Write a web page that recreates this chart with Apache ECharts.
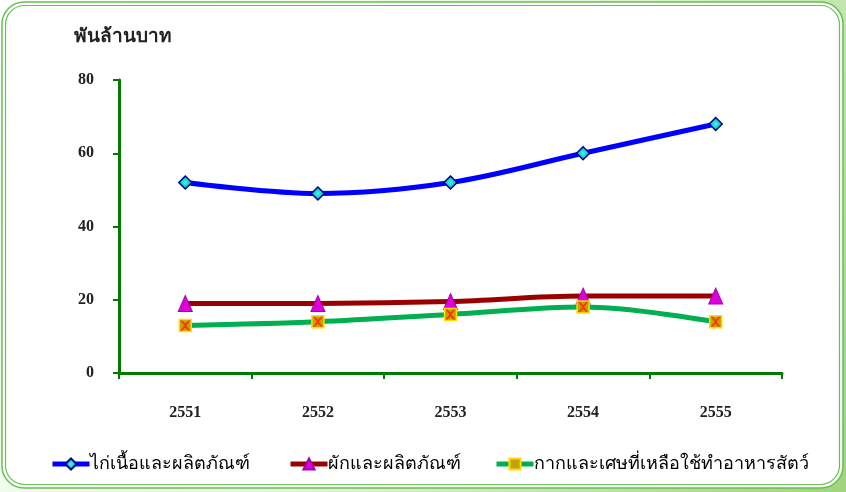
<!DOCTYPE html>
<html><head><meta charset="utf-8">
<script src="https://cdn.jsdelivr.net/npm/echarts@6/dist/echarts.min.js"></script>
<style>html,body{margin:0;padding:0;background:#fff}#c{width:846px;height:492px}</style>
</head><body><div id="c"></div>
<script>
const categories = ['2551','2552','2553','2554','2555'];
const chicken = [52, 49, 52, 60, 68];
const vegetable = [19, 19, 19.5, 21, 21];
const residue = [13, 14, 16, 18, 14];
const seriesNames = ['ไก่เนื้อและผลิตภัณฑ์','ผักและผลิตภัณฑ์','กากและเศษที่เหลือใช้ทำอาหารสัตว์'];
const yTicks = [0, 20, 40, 60, 80];
const unitLabel = 'พันล้านบาท';

const chart = echarts.init(document.getElementById('c'));
const serif = "'Liberation Serif','DejaVu Serif',serif";
const legendFont = "'Liberation Sans Narrow','Noto Sans',sans-serif";
const crossPath = 'path://M0,0 L2,0 L5,3 L8,0 L10,0 L6,5 L10,10 L8,10 L5,7 L2,10 L0,10 L4,5 Z';
const legendText = {fontFamily:legendFont, fontSize:18, color:'#000', fontWeight:500, padding:[0,0,0,-5]};
chart.setOption({
  animation: false,
  backgroundColor: '#fff',
  graphic: [
    {type:'rect', z:-10, shape:{x:0,y:0,width:846,height:492},
     style:{fill:new echarts.graphic.LinearGradient(0,0,1,1,[{offset:0,color:'#ffffff'},{offset:0.5,color:'#e6f4dc'},{offset:1,color:'#9fd57f'}])}},
    {type:'rect', z:-9, shape:{x:2,y:2,width:841,height:486,r:22},
     style:{fill:'#ffffff',stroke:'#66c052',lineWidth:1.5}},
    {type:'rect', z:-8, shape:{x:5.5,y:5.5,width:834,height:479,r:19},
     style:{fill:'none',stroke:'#66c052',lineWidth:1.2}},
    {type:'text', left:74, top:28, style:{text:unitLabel, font:"bold 19px "+serif, fill:'#222'}}
  ],
  grid: {left:119, right:64, top:80, bottom:119},
  xAxis: {
    type:'category', data:categories, boundaryGap:true,
    axisLine:{lineStyle:{color:'#007a00',width:3}},
    axisTick:{show:true,length:6,lineStyle:{color:'#007a00',width:2}},
    axisLabel:{margin:32, color:'#222', fontFamily:serif, fontWeight:'bold', fontSize:16}
  },
  yAxis: {
    type:'value', min:0, max:80, interval:20,
    splitLine:{show:false},
    axisLine:{show:true,lineStyle:{color:'#007a00',width:3}},
    axisTick:{show:true,length:6,lineStyle:{color:'#007a00',width:2}},
    axisLabel:{margin:25, color:'#222', fontFamily:serif, fontWeight:'bold', fontSize:16,
      formatter: v => yTicks.indexOf(v) >= 0 ? String(v) : ''}
  },
  legend: [
    {data:[seriesNames[0]], left:45, top:450, itemWidth:37, itemHeight:14, lineStyle:{width:5}, textStyle:legendText},
    {data:[seriesNames[1]], left:283, top:450, itemWidth:37, itemHeight:14, lineStyle:{width:5}, textStyle:legendText},
    {data:[seriesNames[2]], left:489, top:450, itemWidth:37, itemHeight:14, lineStyle:{width:5}, textStyle:legendText}
  ],
  series: [
    {name:seriesNames[0], type:'line', data:chicken, smooth:0.35,
     lineStyle:{color:'#0000ff',width:5}, symbol:'diamond', symbolSize:13,
     itemStyle:{color:new echarts.graphic.RadialGradient(0.5,0.5,0.6,[{offset:0,color:'#33ffee'},{offset:1,color:'#008888'}]), borderColor:'#000088', borderWidth:1.5}},
    {name:seriesNames[1], type:'line', data:vegetable, smooth:0.35,
     lineStyle:{color:'#990000',width:5}, symbol:'triangle', symbolSize:[14,16],
     itemStyle:{color:'#dd00dd', borderColor:'#aa00aa', borderWidth:1}},
    {name:seriesNames[2], type:'line', data:residue, smooth:0.35,
     lineStyle:{color:'#00b050',width:5}, symbol:'rect', symbolSize:12,
     itemStyle:{color:'#c8a000', borderColor:'#ffdd00', borderWidth:1.5}},
    {name:'x', type:'scatter', data:residue, symbol:crossPath, symbolSize:10, z:5,
     itemStyle:{color:'#ff2200'}, silent:true}
  ]
});
</script></body></html>
